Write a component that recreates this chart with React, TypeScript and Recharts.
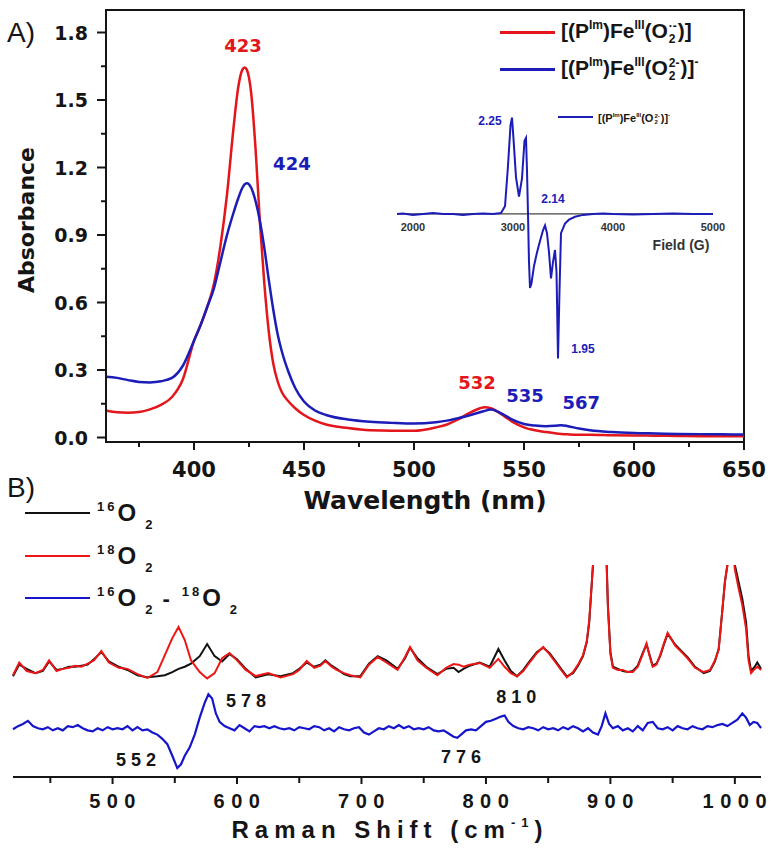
import React from "react";
import {
  LineChart,
  Line,
  XAxis,
  YAxis,
  ReferenceArea,
  ReferenceDot,
  ReferenceLine,
  Legend,
} from "recharts";

const WIDE = "'DejaVu Sans', sans-serif";
const ARIAL = "'Liberation Sans', Arial, sans-serif";
const INK = "#151515";
const RED = "#e3161c";
const BLUE = "#1c1cb8";
const RAMAN_RED = "#ee1515";
const RAMAN_BLUE = "#1515cc";

// ---- A) UV-vis (absorbance vs wavelength, nm)
const wavelength = [
  360, 365, 370, 375, 380, 385, 390, 395, 400, 403,
  406, 409, 412, 415, 418, 420, 422, 423, 424, 426,
  428, 430, 432, 434, 436, 438, 440, 443, 446, 450,
  455, 460, 470, 480, 490, 500, 510, 515, 520, 525,
  530, 532, 535, 538, 541, 545, 550, 555, 560, 564,
  567, 570, 575, 580, 590, 600, 610, 620, 630, 640,
  650,
];
const superoxoAbs = [
  0.12, 0.112, 0.11, 0.113, 0.125, 0.145, 0.18, 0.26, 0.43, 0.5,
  0.58, 0.68, 0.85, 1.08, 1.38, 1.55, 1.635, 1.645, 1.635, 1.53,
  1.28, 0.95, 0.68, 0.47, 0.33, 0.25, 0.2, 0.16, 0.13, 0.1,
  0.075, 0.058, 0.042, 0.032, 0.03, 0.03, 0.045, 0.058, 0.08, 0.108,
  0.13, 0.135, 0.13, 0.115, 0.095, 0.068, 0.045, 0.032, 0.024, 0.019,
  0.016, 0.014, 0.012, 0.012, 0.01, 0.009, 0.008, 0.007, 0.006, 0.006,
  0.006,
];
const peroxoAbs = [
  0.27, 0.265, 0.255, 0.247, 0.245, 0.25, 0.265, 0.32, 0.43, 0.5,
  0.58, 0.66, 0.78, 0.9, 1.0, 1.06, 1.11, 1.125, 1.13, 1.11,
  1.05, 0.96, 0.84, 0.7, 0.57, 0.46, 0.38, 0.29, 0.22, 0.16,
  0.12, 0.1, 0.08, 0.07, 0.065, 0.062, 0.068, 0.075, 0.086, 0.098,
  0.112, 0.118, 0.124, 0.115, 0.1, 0.078, 0.06, 0.053, 0.05, 0.052,
  0.055, 0.05, 0.04, 0.032, 0.024, 0.02, 0.018, 0.016, 0.015, 0.014,
  0.013,
];
const wavelengthTicks = [375, 400, 425, 450, 475, 500, 525, 550, 575, 600, 625, 650];
const absorbanceTicks = [0, 0.15, 0.3, 0.45, 0.6, 0.75, 0.9, 1.05, 1.2, 1.35, 1.5, 1.65, 1.8];
const uvPeakLabels = [
  { x: 422.3, y: 1.742, text: "423", color: RED },
  { x: 444.5, y: 1.218, text: "424", color: BLUE },
  { x: 528.6, y: 0.244, text: "532", color: RED },
  { x: 550.5, y: 0.187, text: "535", color: BLUE },
  { x: 576, y: 0.155, text: "567", color: BLUE },
];

// ---- inset: EPR (field, G)
const eprField = [
  1840, 1900, 2000, 2100, 2200, 2300, 2400, 2500, 2600, 2700,
  2800, 2880, 2920, 2950, 2975, 2990, 3005, 3030, 3060, 3090,
  3115, 3130, 3140, 3150, 3160, 3170, 3185, 3210, 3240, 3270,
  3300, 3320, 3340, 3360, 3380, 3400, 3420, 3435, 3450, 3465,
  3480, 3520, 3560, 3620, 3700, 3800, 3900, 4000, 4200, 4400,
  4600, 4800, 5000,
];
const eprSignal = [
  0, 0.005, -0.01, 0, 0.01, 0, 0, -0.01, 0, 0.005,
  0, 0.01, 0.08, 0.5, 0.92, 1.0, 0.78, 0.38, 0.18, 0.37,
  0.76, 0.79, 0.45, 0, -0.5, -0.77, -0.72, -0.54, -0.4, -0.28,
  -0.17, -0.12, -0.2, -0.4, -0.67, -0.5, -0.375, -0.6, -1.5, -0.8,
  -0.2, -0.1, -0.06, -0.03, -0.01, 0, 0.005, 0, -0.005, 0,
  0.005, 0, 0,
];
const eprTicks = [2000, 3000, 4000, 5000];
const eprLabels = [
  { x: 2770, y: 0.96, text: "2.25" },
  { x: 3400, y: 0.16, text: "2.14" },
  { x: 3700, y: -1.4, text: "1.95" },
];

// ---- B) resonance Raman (shift, cm-1)
const ramanShift = [
  420, 425, 431, 438, 444, 449, 455, 460, 465, 470,
  475, 480, 485, 491, 497, 505, 512, 520, 528, 536,
  542, 548, 553, 558, 563, 570, 576, 582, 588, 594,
  600, 607, 615, 625, 635, 645, 650, 656, 662, 667,
  671, 676, 680, 686, 691, 699, 706, 713, 720, 729,
  735, 739, 745, 752, 761, 768, 774, 778, 782, 787,
  795, 803, 810, 815, 820, 825, 830, 835, 841, 846,
  851, 856, 861, 865, 870, 874, 878, 881, 883, 886,
  891, 896, 898, 900, 902, 906, 910, 914, 918, 922,
  926, 929, 932, 934, 937, 940, 943, 946, 949, 952,
  957, 962, 968, 975, 980, 984, 987, 990, 992, 994,
  997, 1000, 1003, 1006, 1009, 1011, 1013, 1016, 1018, 1021,
];
const o16Raman = [
  47.5, 53, 51, 49, 50, 54.5, 50.5, 51, 52, 52,
  52.5, 53, 55.5, 59, 54.5, 52, 50.5, 48, 47, 47.5,
  48, 49.5, 51, 52, 53.5, 57, 62.7, 57, 54.5, 58,
  55.5, 51, 47, 48.5, 47.5, 49, 51, 54, 52, 53,
  55, 52.5, 51, 48.5, 47.5, 47.5, 53.5, 57, 55, 51,
  56, 61, 56, 52, 48.5, 51, 51.5, 49.5, 51, 52.5,
  54, 52, 60.4, 55, 50, 47.5, 50.5, 54.5, 59, 61,
  58.5, 54.5, 50.5, 47.5, 49, 52.5, 57, 63.5, 73, 100,
  145, 120, 81, 59, 52, 51, 50, 49.5, 50, 52.5,
  58.5, 62.5, 56.5, 52.5, 53.5, 57, 62.5, 67.5, 65, 62.5,
  59.5, 56.5, 52, 49, 50, 54.5, 60.5, 79, 92, 100,
  115, 100, 92, 84, 73, 57, 50, 52, 54, 51,
];
const o18Raman = [
  48, 54, 50, 49, 50.5, 55, 50, 51, 51.5, 52.5,
  52, 53.5, 55, 59.5, 54, 51.5, 51, 48.5, 46.7, 49.5,
  57.5, 65.5, 70.8, 64.6, 55, 49.5, 46.5, 49, 56, 58.5,
  55, 50.5, 47.6, 49, 47, 48.5, 50.5, 54.7, 51.5, 52.5,
  54.7, 52, 50.5, 49, 48, 47, 53, 56.6, 54, 50.5,
  56.6, 61.3, 55, 51.5, 48, 51.5, 53.3, 53, 52, 53,
  53.8, 51.5, 55.7, 52, 49, 47.5, 50, 54, 58.5, 61.3,
  58, 54, 50, 47, 49.5, 53, 57.5, 64, 74, 100,
  145, 120, 80, 58, 51.5, 50.5, 50.5, 49.5, 49.5, 52,
  58, 63, 56, 52, 53, 57.5, 63, 68, 65, 62,
  59, 56, 51.5, 49.5, 50.5, 55, 60, 79, 92, 100,
  115, 98, 89, 81, 70, 55, 49, 51, 52, 50.5,
];
const diffShift = [
  420, 424, 428, 432, 436, 440, 444, 448, 452, 456,
  460, 464, 468, 472, 476, 480, 484, 488, 492, 496,
  500, 504, 508, 512, 516, 520, 524, 528, 532, 536,
  540, 544, 548, 552, 555, 558, 562, 566, 570, 574,
  577, 580, 583, 586, 590, 594, 598, 602, 606, 610,
  614, 618, 622, 626, 630, 634, 638, 642, 646, 650,
  654, 658, 662, 666, 670, 674, 678, 682, 686, 690,
  694, 698, 702, 706, 710, 714, 718, 722, 726, 730,
  734, 738, 742, 746, 750, 754, 758, 762, 766, 770,
  774, 777, 780, 784, 788, 792, 796, 800, 804, 808,
  812, 815, 818, 822, 826, 830, 834, 838, 842, 846,
  850, 854, 858, 862, 866, 870, 874, 878, 882, 886,
  890, 893, 896, 899, 902, 906, 910, 914, 918, 922,
  926, 930, 934, 938, 942, 946, 950, 954, 958, 962,
  966, 970, 974, 978, 982, 986, 990, 994, 998, 1002,
  1006, 1009, 1012, 1015, 1018, 1021,
];
const diffRaman = [
  22.5, 24, 25, 26.5, 24, 23, 22.5, 23.5, 22, 23,
  22, 24, 23.5, 24.5, 23, 22, 21.5, 23, 22, 23.5,
  22.5, 23, 22.5, 24, 22, 23.5, 22, 22.5, 21, 20,
  18, 15.5, 10, 4.2, 6, 10, 14, 20, 28, 35,
  39, 37, 30, 26, 24, 23, 22, 24.5, 23, 21.5,
  24, 23.5, 24, 23, 24, 23, 22.5, 23, 22, 23.5,
  23, 22.5, 24, 23.5, 22, 23, 21.5, 23.5, 22.5, 22,
  23, 23.5, 21, 20, 21.5, 23, 22.5, 24, 23, 24.5,
  23, 24, 22.5, 23, 22.5, 23.5, 22, 21.5, 22, 20.5,
  19, 18.5, 20, 22, 22.5, 22, 24, 26, 26.5, 27.5,
  28.5, 29, 26, 24, 23, 22.5, 23.5, 23, 22, 23.5,
  22.5, 23, 22, 23.5, 22.5, 24, 23, 21.5, 23, 21,
  20, 24, 30, 25, 23, 24, 22, 23, 21.5, 24,
  22, 25.5, 26, 23, 22.5, 23.5, 22, 24, 23, 22.5,
  24, 23, 22.5, 24, 23.5, 24.5, 25, 24, 25.5, 27,
  30, 28, 24.5, 26, 25.5, 23,
];
const ramanTicks = [450, 500, 550, 600, 650, 700, 750, 800, 850, 900, 950, 1000];
const ramanLabels = [
  { x: 518.9, y: 8, text: "552" },
  { x: 607.3, y: 35.8, text: "578" },
  { x: 780, y: 9.4, text: "776" },
  { x: 824.3, y: 37.7, text: "810" },
];

const uvRows = wavelength.map((w, i) => ({ w, superoxo: superoxoAbs[i], peroxo: peroxoAbs[i] }));
const eprRows = eprField.map((field, i) => ({ field, signal: eprSignal[i] }));
const ramanRows = ramanShift.map((shift, i) => ({ shift, o16: o16Raman[i], o18: o18Raman[i] }));
const diffRows = diffShift.map((shift, i) => ({ shift, diff: diffRaman[i] }));

// text drawn at a data point
const textShape = (text: string, style: any, dx = 0) => (p: any) => (
  <text x={p.cx + dx} y={p.cy} textAnchor="middle" dominantBaseline="central" {...style}>
    {text}
  </text>
);

const uvXTick = (p: any) => {
  const v = p.payload.value;
  const major = v % 50 === 0;
  return (
    <g>
      <line x1={p.x} y1={p.y} x2={p.x} y2={p.y + (major ? 8 : 5)} stroke={INK} strokeWidth={2} />
      {major && (
        <text x={p.x} y={p.y + 35} textAnchor="middle" fontFamily={WIDE} fontWeight="bold" fontSize={21} fill={INK}>
          {v}
        </text>
      )}
    </g>
  );
};

const uvYTick = (p: any) => {
  const v = p.payload.value;
  const major = Math.round(v / 0.15) % 2 === 0;
  return (
    <g>
      <line x1={p.x} y1={p.y} x2={p.x - (major ? 9 : 5)} y2={p.y} stroke={INK} strokeWidth={2} />
      {major && (
        <text x={p.x - 18} y={p.y + 7} textAnchor="end" fontFamily={WIDE} fontWeight="bold" fontSize={19} fill={INK}>
          {v.toFixed(1)}
        </text>
      )}
    </g>
  );
};

const ramanTick = (p: any) => {
  const v = p.payload.value;
  const major = v % 100 === 0;
  return (
    <g>
      <line x1={p.x} y1={p.y} x2={p.x} y2={p.y + (major ? 7 : 6)} stroke={INK} strokeWidth={2} />
      {major && (
        <text x={p.x + 3} y={p.y + 31} textAnchor="middle" fontFamily={ARIAL} fontWeight="bold" fontSize={20} letterSpacing={6.5} fill={INK}>
          {v}
        </text>
      )}
    </g>
  );
};

const wavelengthTitle = (p: any) => {
  const vb = p.viewBox ?? { x: 106, y: 442, width: 638, height: 30 };
  return (
    <text x={vb.x + vb.width / 2} y={vb.y + 67} textAnchor="middle" fontFamily={WIDE} fontWeight="bold" fontSize={25} fill={INK}>
      Wavelength (nm)
    </text>
  );
};

const absorbanceTitle = (p: any) => {
  const vb = p.viewBox ?? { x: 0, y: 10, width: 106, height: 432 };
  const cy = vb.y + vb.height / 2 - 6;
  return (
    <text x={34} y={cy} transform={`rotate(-90 34 ${cy})`} textAnchor="middle" fontFamily={WIDE} fontWeight="bold" fontSize={22} fill={INK}>
      Absorbance
    </text>
  );
};

const ramanTitle = (p: any) => {
  const vb = p.viewBox ?? { x: 13, y: 297, width: 748, height: 30 };
  return (
    <text x={vb.x + vb.width / 2 + 3} y={vb.y + 61} textAnchor="middle" fontFamily={ARIAL} fontWeight="bold" fontSize={24} letterSpacing={6} fill={INK}>
      Raman Shift (cm
      <tspan fontSize={13} dy={-11}>-1</tspan>
      <tspan dy={11}>)</tspan>
    </text>
  );
};

// formula pieces for the legends
const sup = (t: string, size: number, lift: number) => (
  <span style={{ fontSize: size, position: "relative", top: lift }}>{t}</span>
);
const stackO2 = (charge: string, size: number) => (
  <span style={{ display: "inline-flex", flexDirection: "column", fontSize: size, lineHeight: 1.05, verticalAlign: "middle", margin: "0 1px" }}>
    <span>{charge}</span>
    <span>2</span>
  </span>
);
const complexLabel = (charge: string, outer: string, base: number) => {
  const small = Math.round(base * 0.58);
  const lift = -Math.round(base * 0.42);
  return (
    <span style={{ fontSize: base }}>
      [(P{sup("Im", small, lift)})Fe{sup("III", small, lift)}(O{stackO2(charge, small)})]
      {outer && sup(outer, small, lift)}
    </span>
  );
};
const isotope = (mass: string) => (
  <span>
    <span style={{ fontSize: 13, letterSpacing: 3, position: "relative", top: -10 }}>{mass}</span>
    <span style={{ fontSize: 24 }}>O</span>
    <span style={{ fontSize: 13, position: "relative", top: 8, marginLeft: 9 }}>2</span>
  </span>
);

const legendContent =
  (labels: Record<string, React.ReactNode>, opt: { row: number; line: number; thick: number; gap: number; font: string }) =>
  (props: any) => {
    const payload: any[] = props.payload || [];
    return (
      <div style={{ fontFamily: opt.font, fontWeight: "bold", color: INK }}>
        {Object.keys(labels).map((key) => {
          const item = payload.find((p) => p.value === key);
          if (!item) return null;
          return (
            <div key={key} style={{ display: "flex", alignItems: "center", height: opt.row, whiteSpace: "nowrap" }}>
              <div style={{ width: opt.line, height: opt.thick, background: item.color, marginRight: opt.gap }} />
              <div>{labels[key]}</div>
            </div>
          );
        })}
      </div>
    );
  };

const uvLegend = legendContent(
  { superoxo: complexLabel("·-", "", 21), peroxo: complexLabel("2-", "-", 21) },
  { row: 37, line: 55, thick: 3, gap: 6, font: ARIAL }
);
const eprLegend = legendContent(
  { epr: complexLabel("2-", "-", 11) },
  { row: 16, line: 35, thick: 2, gap: 5, font: ARIAL }
);
const ramanLegend = legendContent(
  {
    o16: isotope("16"),
    o18: isotope("18"),
    diff: (
      <span>
        {isotope("16")}
        <span style={{ fontSize: 22, margin: "0 12px 0 10px" }}>-</span>
        {isotope("18")}
      </span>
    ),
  },
  { row: 42.5, line: 65, thick: 2, gap: 7, font: ARIAL }
);

export default function App() {
  return (
    <div style={{ position: "absolute", left: 0, top: 0, width: 772, height: 855, background: "#fff", overflow: "hidden" }}>
      <div style={{ position: "absolute", left: 0, top: 0 }}>
        <LineChart width={772} height={540} margin={{ top: 10, right: 28, left: 0, bottom: 68 }}>
          <XAxis
            type="number"
            dataKey="w"
            domain={[360, 650]}
            ticks={wavelengthTicks}
            interval={0}
            tickSize={0}
            tickMargin={0}
            tickLine={false}
            axisLine={{ stroke: INK, strokeWidth: 2 }}
            height={30}
            tick={uvXTick}
            label={wavelengthTitle}
          />
          <YAxis
            type="number"
            domain={[-0.02, 1.9]}
            ticks={absorbanceTicks}
            interval={0}
            width={106}
            tickSize={0}
            tickMargin={0}
            tickLine={false}
            axisLine={{ stroke: INK, strokeWidth: 2 }}
            tick={uvYTick}
            label={absorbanceTitle}
          />
          <ReferenceArea x1={360} x2={650} y1={-0.02} y2={1.9} fill="none" stroke={INK} strokeWidth={2} />
          <Line data={uvRows} dataKey="superoxo" name="superoxo" type="monotone" stroke={RED} strokeWidth={2.5} dot={false} isAnimationActive={false} />
          <Line data={uvRows} dataKey="peroxo" name="peroxo" type="monotone" stroke={BLUE} strokeWidth={2.5} dot={false} isAnimationActive={false} />
          {uvPeakLabels.map((l) => (
            <ReferenceDot
              key={l.text}
              x={l.x}
              y={l.y}
              r={0}
              shape={textShape(l.text, { fontFamily: WIDE, fontWeight: "bold", fontSize: 18, fill: l.color })}
            />
          ))}
          <Legend
            layout="vertical"
            align="center"
            verticalAlign="middle"
            wrapperStyle={{ left: 500, top: 14, width: "auto", height: "auto" }}
            content={uvLegend}
          />
        </LineChart>
      </div>

      <div style={{ position: "absolute", left: 377, top: 108 }}>
        <LineChart width={356} height={260} margin={{ top: 0, right: 20, left: 20, bottom: 0 }}>
          <XAxis type="number" dataKey="field" domain={[1840, 5000]} hide />
          <YAxis type="number" domain={[-1.6, 1.1]} hide />
          <ReferenceLine y={0} stroke="#444" strokeWidth={1.3} />
          <Line data={eprRows} dataKey="signal" name="epr" type="linear" stroke={BLUE} strokeWidth={2} dot={false} isAnimationActive={false} />
          {eprTicks.map((t) => (
            <ReferenceDot
              key={t}
              x={t}
              y={-0.14}
              r={0}
              shape={textShape(String(t), { fontFamily: ARIAL, fontWeight: "bold", fontSize: 11, fill: "#333" })}
            />
          ))}
          <ReferenceDot
            x={4680}
            y={-0.32}
            r={0}
            shape={textShape("Field (G)", { fontFamily: ARIAL, fontWeight: "bold", fontSize: 14, fill: "#333" })}
          />
          {eprLabels.map((l) => (
            <ReferenceDot
              key={l.text}
              x={l.x}
              y={l.y}
              r={0}
              shape={textShape(l.text, { fontFamily: ARIAL, fontWeight: "bold", fontSize: 12, fill: BLUE })}
            />
          ))}
          <Legend
            layout="vertical"
            align="center"
            verticalAlign="middle"
            wrapperStyle={{ left: 181, top: 1, width: "auto", height: "auto" }}
            content={eprLegend}
          />
        </LineChart>
      </div>

      <div style={{ position: "absolute", left: 0, top: 480 }}>
        <LineChart width={772} height={375} margin={{ top: 85, right: 11, left: 13, bottom: 48 }}>
          <XAxis
            type="number"
            dataKey="shift"
            domain={[420, 1021]}
            ticks={ramanTicks}
            interval={0}
            tickSize={0}
            tickMargin={0}
            tickLine={false}
            axisLine={{ stroke: INK, strokeWidth: 2 }}
            height={30}
            tick={ramanTick}
            label={ramanTitle}
          />
          <YAxis type="number" domain={[0, 100]} allowDataOverflow hide />
          <Line data={ramanRows} dataKey="o16" name="o16" type="linear" stroke="#111" strokeWidth={2} dot={false} isAnimationActive={false} />
          <Line data={ramanRows} dataKey="o18" name="o18" type="linear" stroke={RAMAN_RED} strokeWidth={2} dot={false} isAnimationActive={false} />
          <Line data={diffRows} dataKey="diff" name="diff" type="linear" stroke={RAMAN_BLUE} strokeWidth={2.2} dot={false} isAnimationActive={false} />
          {ramanLabels.map((l) => (
            <ReferenceDot
              key={l.text}
              x={l.x}
              y={l.y}
              r={0}
              shape={textShape(l.text, { fontFamily: ARIAL, fontWeight: "bold", fontSize: 18, letterSpacing: 5, fill: INK }, 2.5)}
            />
          ))}
          <Legend
            layout="vertical"
            align="center"
            verticalAlign="middle"
            wrapperStyle={{ left: 25, top: 12, width: "auto", height: "auto" }}
            content={ramanLegend}
          />
        </LineChart>
      </div>

      <svg width={772} height={855} style={{ position: "absolute", left: 0, top: 0, pointerEvents: "none" }}>
        <text x={7} y={42} fontFamily={ARIAL} fontSize={28} fill={INK}>A)</text>
        <text x={7} y={497} fontFamily={ARIAL} fontSize={28} fill={INK}>B)</text>
      </svg>
    </div>
  );
}
